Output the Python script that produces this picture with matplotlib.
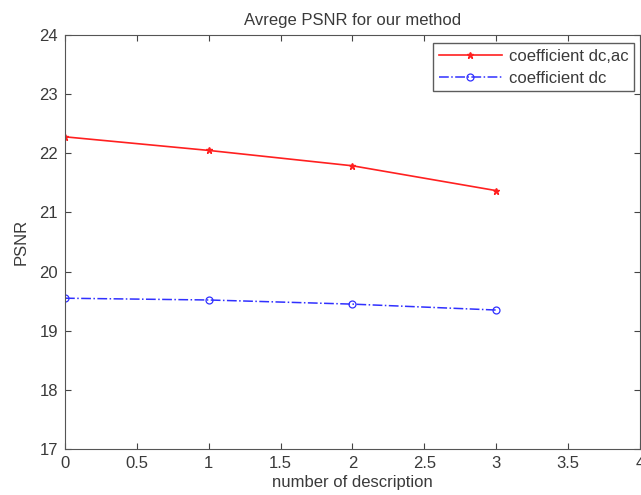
import matplotlib
matplotlib.use("Agg")
import matplotlib.pyplot as plt

plt.rcParams['font.family'] = ['Liberation Sans', 'DejaVu Sans']

descriptions = [0, 1, 2, 3]
psnr_dc_ac = [22.28, 22.05, 21.79, 21.37]
psnr_dc = [19.55, 19.52, 19.45, 19.35]
labels = ['coefficient dc,ac', 'coefficient dc']

fig = plt.figure(figsize=(6.41, 4.95), dpi=100)
ax = fig.add_axes([0.1014, 0.093, 0.897, 0.836])

ax.plot(descriptions, psnr_dc_ac, color='#ff2020', ls='-', lw=1.2,
        marker='*', ms=5, label=labels[0])
ax.plot(descriptions, psnr_dc, color='#3030ff', ls='-.', lw=1.1,
        marker='o', ms=5, mfc='none', mew=0.9, label=labels[1])

ax.set_xlim(0, 4)
ax.set_ylim(17, 24)
ax.set_xticks([0, 0.5, 1, 1.5, 2, 2.5, 3, 3.5, 4])
ax.set_xticklabels(['0', '0.5', '1', '1.5', '2', '2.5', '3', '3.5', '4'])
ax.set_yticks(range(17, 25))

ax.tick_params(direction='in', top=True, right=True, length=4,
               labelsize=12, colors='#444444', labelcolor='#3a3a3a', pad=5)
for s in ax.spines.values():
    s.set_color('#555555')

ax.set_title('Avrege PSNR for our method', fontsize=12, color='#3a3a3a', pad=7)
ax.set_xlabel('number of description', fontsize=12, color='#3a3a3a', labelpad=3)
ax.set_ylabel('PSNR', fontsize=12, color='#3a3a3a', labelpad=8)

leg = ax.legend(loc='upper right', bbox_to_anchor=(0.99, 0.981), fontsize=12,
                frameon=True, fancybox=False, edgecolor='#333333',
                borderaxespad=0, handlelength=3.8, handletextpad=0.4,
                labelspacing=0.4, borderpad=0.35)
leg.get_frame().set_linewidth(1.0)
for t in leg.get_texts():
    t.set_color('#3a3a3a')

fig.savefig('out.png', dpi=100)
